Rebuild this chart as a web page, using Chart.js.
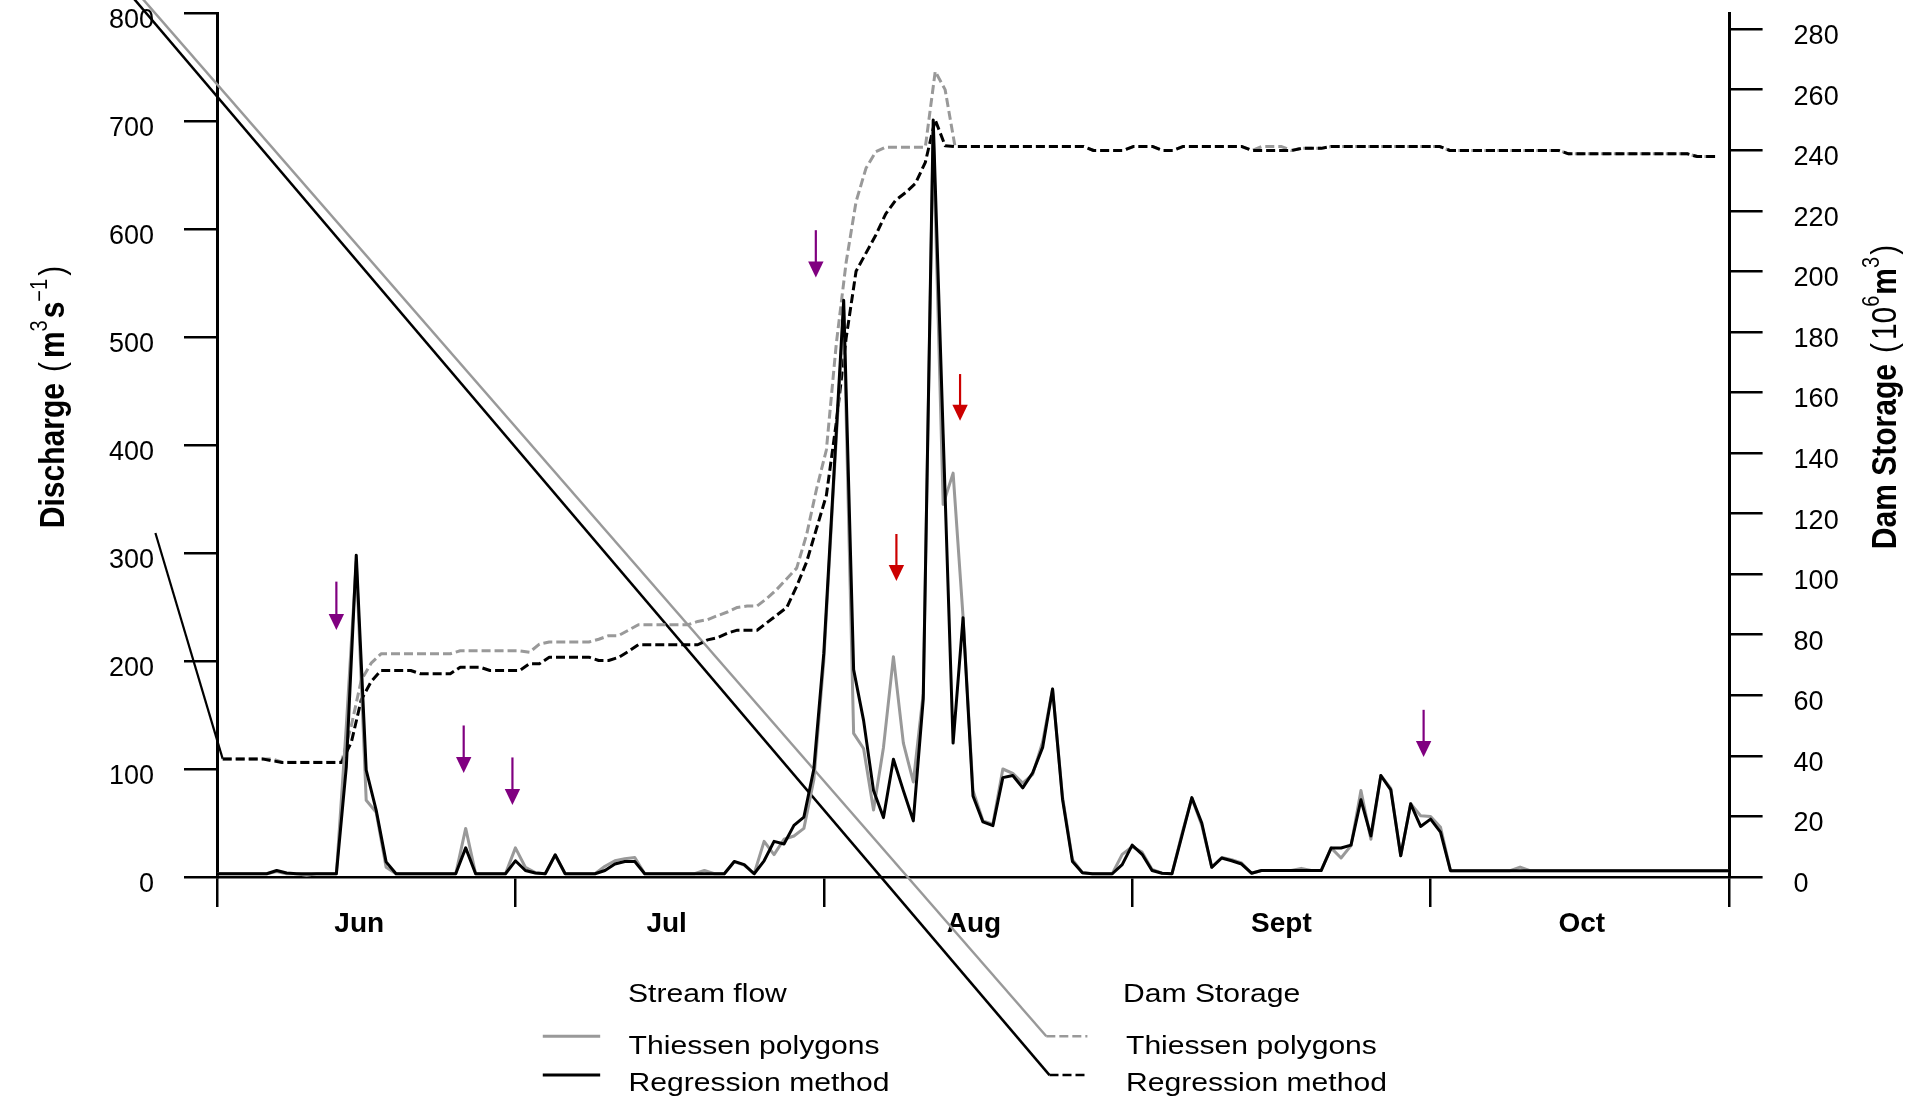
<!DOCTYPE html>
<html>
<head>
<meta charset="utf-8">
<script src="https://cdn.jsdelivr.net/npm/chart.js@4.4.1/dist/chart.umd.min.js"></script>
<style>
html,body{margin:0;padding:0;background:#fff;overflow:hidden}
#wrap{position:relative;width:1907px;height:1097px}
</style>
</head>
<body>
<div id="wrap"><canvas id="c" width="1907" height="1097"></canvas></div>
<script>
// ---------- DATA ----------
// Daily stream flow (m3/s), day 0 = 1 June ... day 152 = 31 October
const flowRegression = [
  3,3,3,3,3,3,6,3.7,3,3,
  3,3,3,102,298,99,62,14,3,3,
  3,3,3,3,3,27,3,3,3,3,
  15,6,3.7,3,20.6,3,3,3,3,6,
  12,14.4,14.4,3,3,3,3,3,3,3,
  3,3,14.4,11.4,3,15,33,30.5,47.8,55.5,
  100,207,370,534,192,145,80,55,109,80,
  52,165,701,410,124,240,75,51,47.5,92,
  94,82.5,96.5,120,174,72,14.4,4,3,3,
  3,11.4,29.5,21,6,3.5,3,38,73.5,50,
  9,17.6,15,12,3.5,6,6,6,6,6,
  6,6,26.8,26.8,29.5,71.5,38,94,80.7,19.7,
  67.8,46.8,53.6,41.6,5.9,5.9,5.9,5.9,5.9,5.9,
  5.9,5.9,5.9,5.9,5.9,5.9,5.9,5.9,5.9,5.9,
  5.9,5.9,5.9,5.9,5.9,5.9,5.9,5.9,5.9,5.9,
  5.9,5.9,5.9
];
const flowThiessen = [
  3,3,3,3,3,3,5,3,3,1.7,
  3,3,3,140,292,71,60,9,3,3,
  3,3,3,3,3,45,3,3,3,3,
  27,9,4,3,20,3,3,3,3,10,
  15,17,18,3,3,3,3,3,3,6,
  3,3,14,11,3,33,20.7,35,38,45,
  90,200,365,525,133,119,62,120,204,124,
  88,170,690,345,374,241,80,52,49,100,
  96,87,95,125,174,74,16,4,3,3,
  3,21,28,23,7,3.5,3,40,73,48,
  9,18,16,13,3.5,6,6,6,6,8,
  6,6,27,17.6,29,80,35,94,82,19.7,
  67.8,56.7,56,46,5.9,5.9,5.9,5.9,5.9,5.9,
  5.9,9.2,5.9,5.9,5.9,5.9,5.9,5.9,5.9,5.9,
  5.9,5.9,5.9,5.9,5.9,5.9,5.9,5.9,5.9,5.9,
  5.9,5.9,5.9
];
// Dam storage (10^6 m3), 152 daily records
const storageRegression = [
  39,39,39,39,39,38.4,37.8,37.8,37.8,37.8,
  37.8,37.8,37.8,44.5,58.5,64.5,68.2,68.2,68.2,68.2,
  67.1,67.1,67.1,67.1,69.3,69.3,69.3,68.2,68.2,68.2,
  68.2,70.4,70.4,72.6,72.6,72.6,72.6,72.6,71.5,71.5,
  72.5,74.5,76.7,76.7,76.7,76.7,76.7,76.7,76.7,78.3,
  79,80.5,81.5,81.5,81.5,84,86.5,89,96,104,
  115,126,150,178,200,206,212,219,223.5,226,
  229,236,250,241.5,241.2,241.2,241.2,241.2,241.2,241.2,
  241.2,241.2,241.2,241.2,241.2,241.2,241.2,241.2,239.9,239.9,
  239.9,239.9,241.2,241.2,241.2,239.9,239.9,241.2,241.2,241.2,
  241.2,241.2,241.2,241.2,239.9,239.9,239.9,239.9,239.9,240.6,
  240.6,240.6,241.2,241.2,241.2,241.2,241.2,241.2,241.2,241.2,
  241.2,241.2,241.2,241.2,239.9,239.9,239.9,239.9,239.9,239.9,
  239.9,239.9,239.9,239.9,239.9,239.9,238.8,238.8,238.8,238.8,
  238.8,238.8,238.8,238.8,238.8,238.8,238.8,238.8,238.8,237.9,
  237.9,237.9
];
const storageThiessen = [
  39,39,39,39,39,39,37.9,37.9,37.9,37.9,
  37.9,37.9,37.9,50,65,70.6,73.7,73.7,73.7,73.7,
  73.7,73.7,73.7,73.7,74.7,74.7,74.7,74.7,74.7,74.7,
  74.7,74.2,76.9,77.6,77.6,77.6,77.6,77.6,78.5,79.7,
  79.7,81.5,83.3,83.3,83.3,83.3,83.3,83.3,84.4,85,
  86.3,87.5,89,89.5,89.5,92,95,98.5,102,113,
  128,141,176,203,223,234,239.5,241,241,241,
  241,241,266,260,241.2,241.2,241.2,241.2,241.2,241.2,
  241.2,241.2,241.2,241.2,241.2,241.2,241.2,241.2,239.9,239.9,
  239.9,239.9,241.2,241.2,241.2,239.9,239.9,241.2,241.2,241.2,
  241.2,241.2,241.2,241.2,239.9,241.2,241.2,241.2,239.9,240.6,
  240.6,240.6,241.2,241.2,241.2,241.2,241.2,241.2,241.2,241.2,
  241.2,241.2,241.2,241.2,239.9,239.9,239.9,239.9,239.9,239.9,
  239.9,239.9,239.9,239.9,239.9,239.9,238.8,238.8,238.8,238.8,
  238.8,238.8,238.8,238.8,238.8,238.8,238.8,238.8,238.8,237.9,
  237.9,237.9
];
// Axis ticks
const dischargeTicks = [0,100,200,300,400,500,600,700,800];
const storageTicks = [0,20,40,60,80,100,120,140,160,180,200,220,240,260,280];
const monthBoundaryDays = [0,30,61,92,122,152];
const monthLabelDays = [14.3,45.2,76.1,107,137.2];
const monthNames = ['Jun','Jul','Aug','Sept','Oct'];
// Event arrows (day, discharge at top, discharge at tip)
const arrowDay = [12,24.8,29.7,60.2,68.3,74.7,121.3];
const arrowTop = [273.5,140.3,110.7,598.9,317.6,465.7,154.8];
const arrowTip = [228.8,96.2,66.6,555.1,274,422.5,111];
const arrowGroup = ['A','A','A','A','B','B','A'];
// Stray connector strokes present in the original figure (day, discharge)
const strayThiessen = [[-9.09,830.2],[83.37,-147.5],[87.5,-147.5]];
const strayRegression = [[-9.92,830.2],[83.69,-183.4],[87.5,-183.4]];
const legendFlowThiessen = [[32.75,-147.5],[38.52,-147.5]];
const legendFlowRegression = [[32.75,-183.4],[38.52,-183.4]];
// stray stroke into first storage record (storage index, storage)
const strayStorageStart = [[-6.8,113.6],[0,39]];

// ---------- CHART ----------
const FONT = "'Liberation Sans', Arial, Helvetica, sans-serif";
const GRAY = '#999999';
const BLACK = '#000000';
const arrowColors = {A:'#800080', B:'#cc0000'};
const toXY = arr => arr.map(p => ({x:p[0], y:p[1]}));
const series = arr => arr.map((v,i) => ({x:i, y:v}));

const overlay = {
  id: 'overlay',
  afterDatasetsDraw(chart) {
    const ctx = chart.ctx;
    const xs = chart.scales.x, ys = chart.scales.y;
    arrowDay.forEach((d, i) => {
      const col = arrowColors[arrowGroup[i]];
      const x = xs.getPixelForValue(d);
      const yT = ys.getPixelForValue(arrowTop[i]);
      const yB = ys.getPixelForValue(arrowTip[i]);
      const head = 16, half = 7.7;
      ctx.save();
      ctx.strokeStyle = col; ctx.fillStyle = col; ctx.lineWidth = 2.2;
      ctx.beginPath(); ctx.moveTo(x, yT); ctx.lineTo(x, yB - head + 1); ctx.stroke();
      ctx.beginPath(); ctx.moveTo(x - half, yB - head); ctx.lineTo(x + half, yB - head); ctx.lineTo(x, yB); ctx.closePath(); ctx.fill();
      ctx.restore();
    });
  },
  afterDraw(chart) {
    const ctx = chart.ctx;
    ctx.save();
    ctx.fillStyle = '#000';
    ctx.textBaseline = 'alphabetic';
    ctx.textAlign = 'left';
    const stretch = 1.18;
    const txt = (t, x, y, size) => {
      ctx.save(); ctx.translate(x, y); ctx.scale(stretch, 1);
      ctx.font = size + 'px ' + FONT; ctx.fillText(t, 0, 0); ctx.restore();
    };
    txt('Stream flow', 628, 1001.5, 25.5);
    txt('Dam Storage', 1123, 1001.5, 25.5);
    txt('Thiessen polygons', 628.6, 1054, 25.5);
    txt('Regression method', 628.6, 1090.5, 25.5);
    txt('Thiessen polygons', 1126, 1054, 25.5);
    txt('Regression method', 1126, 1090.5, 25.5);

    const rich = (parts, cx, cy) => {
      ctx.save();
      ctx.translate(cx, cy); ctx.rotate(-Math.PI/2); ctx.scale(1, 1.15);
      let total = 0;
      parts.forEach(p => { ctx.font = p.f; p.w = ctx.measureText(p.t).width + (p.gap||0); total += p.w; });
      let x = -total/2;
      parts.forEach(p => { ctx.font = p.f; ctx.fillText(p.t, x, p.dy||0); x += p.w; });
      ctx.restore();
    };
    const B = 'bold 30px ' + FONT, R = '30px ' + FONT, S = '20px ' + FONT;
    rich([
      {t:'Discharge', f:B, gap:11},
      {t:'(', f:R, gap:4},
      {t:'m', f:B},
      {t:'3', f:S, dy:-15, gap:2},
      {t:'s', f:B},
      {t:'\u22121', f:S, dy:-15, gap:3},
      {t:')', f:R}
    ], 64, 397);
    rich([
      {t:'Dam Storage', f:B, gap:11},
      {t:'(', f:R, gap:3},
      {t:'10', f:R},
      {t:'6', f:S, dy:-15, gap:1},
      {t:'m', f:B},
      {t:'3', f:S, dy:-15, gap:2},
      {t:')', f:R}
    ], 1896, 397);
    ctx.restore();
  }
};

const dashed = [9,4];
new Chart(document.getElementById('c'), {
  type: 'line',
  data: {
    datasets: [
      {label:'Stream flow - Regression method', data: series(flowRegression), xAxisID:'x', yAxisID:'y',
       borderColor: BLACK, borderWidth: 3, order: 0},
      {label:'Stream flow - Thiessen polygons', data: series(flowThiessen), xAxisID:'x', yAxisID:'y',
       borderColor: GRAY, borderWidth: 3, order: 1},
      {label:'Dam Storage - Regression method', data: series(storageRegression), xAxisID:'x2', yAxisID:'y2',
       borderColor: BLACK, borderWidth: 3, borderDash: dashed, order: 2},
      {label:'Dam Storage - Thiessen polygons', data: series(storageThiessen), xAxisID:'x2', yAxisID:'y2',
       borderColor: GRAY, borderWidth: 3, borderDash: dashed, order: 3},
      {label:'stray storage start', data: toXY(strayStorageStart), xAxisID:'x2', yAxisID:'y2',
       borderColor: BLACK, borderWidth: 2.2, clip: false, order: 4},
      {label:'stray Thiessen', data: toXY(strayThiessen), xAxisID:'x', yAxisID:'y',
       borderColor: GRAY, borderWidth: 2.5, clip: false, order: 5,
       segment: {borderDash: c => c.p0DataIndex === 1 ? dashed : undefined}},
      {label:'stray Regression', data: toXY(strayRegression), xAxisID:'x', yAxisID:'y',
       borderColor: BLACK, borderWidth: 2.5, clip: false, order: 4,
       segment: {borderDash: c => c.p0DataIndex === 1 ? dashed : undefined}},
      {label:'legend flow Thiessen', data: toXY(legendFlowThiessen), xAxisID:'x', yAxisID:'y',
       borderColor: GRAY, borderWidth: 3, clip: false, order: 5},
      {label:'legend flow Regression', data: toXY(legendFlowRegression), xAxisID:'x', yAxisID:'y',
       borderColor: BLACK, borderWidth: 3, clip: false, order: 4}
    ]
  },
  options: {
    responsive: false,
    animation: false,
    devicePixelRatio: 1,
    layout: {padding: {top: 13, left: 0, right: 0, bottom: 0}},
    plugins: {legend: {display: false}, tooltip: {enabled: false}},
    elements: {
      point: {radius: 0, hoverRadius: 0},
      line: {tension: 0, borderJoinStyle: 'round', borderCapStyle: 'butt', fill: false}
    },
    scales: {
      x: {
        type: 'linear', position: 'bottom', min: 0, max: 152,
        afterBuildTicks: s => { s.ticks = monthBoundaryDays.concat(monthLabelDays).sort((a,b)=>a-b).map(v => ({value: v})); },
        afterFit: s => { s.height = 220; s.paddingLeft = 0; s.paddingRight = 0; },
        grid: {drawOnChartArea: false, drawTicks: true, tickLength: 30, lineWidth: 2.5, tickWidth: 2.5,
               tickColor: c => (c.tick && monthBoundaryDays.includes(c.tick.value)) ? '#000' : 'rgba(0,0,0,0)'},
        border: {display: true, color: '#000', width: 2.5},
        ticks: {
          autoSkip: false, maxRotation: 0, minRotation: 0, padding: 0, color: '#000',
          font: {family: FONT, size: 28, weight: 'bold'},
          callback: v => { const k = monthLabelDays.indexOf(v); return k >= 0 ? monthNames[k] : ''; }
        }
      },
      x2: {type: 'linear', display: false, min: -0.576, max: 152.21},
      y: {
        type: 'linear', position: 'left', min: 0, max: 800,
        afterBuildTicks: s => { s.ticks = dischargeTicks.map(v => ({value: v})); },
        afterFit: s => { s.width = 217; s.paddingTop = 0; s.paddingBottom = 0; },
        grid: {drawOnChartArea: false, drawTicks: true, tickLength: 33, lineWidth: 2.5, tickWidth: 2.5, tickColor: '#000'},
        border: {display: true, color: '#000', width: 3},
        ticks: {padding: 30, labelOffset: 7.5, color: '#000', font: {family: FONT, size: 27}}
      },
      y2: {
        type: 'linear', position: 'right', min: 0, max: 285.3,
        afterBuildTicks: s => { s.ticks = storageTicks.map(v => ({value: v})); },
        afterFit: s => { s.width = 178; s.paddingTop = 0; s.paddingBottom = 0; },
        grid: {drawOnChartArea: false, drawTicks: true, tickLength: 33.6, lineWidth: 2.5, tickWidth: 2.5, tickColor: '#000'},
        border: {display: true, color: '#000', width: 3},
        ticks: {padding: 31, labelOffset: 7.5, color: '#000', font: {family: FONT, size: 27}}
      }
    }
  },
  plugins: [overlay]
});
</script>
</body>
</html>
